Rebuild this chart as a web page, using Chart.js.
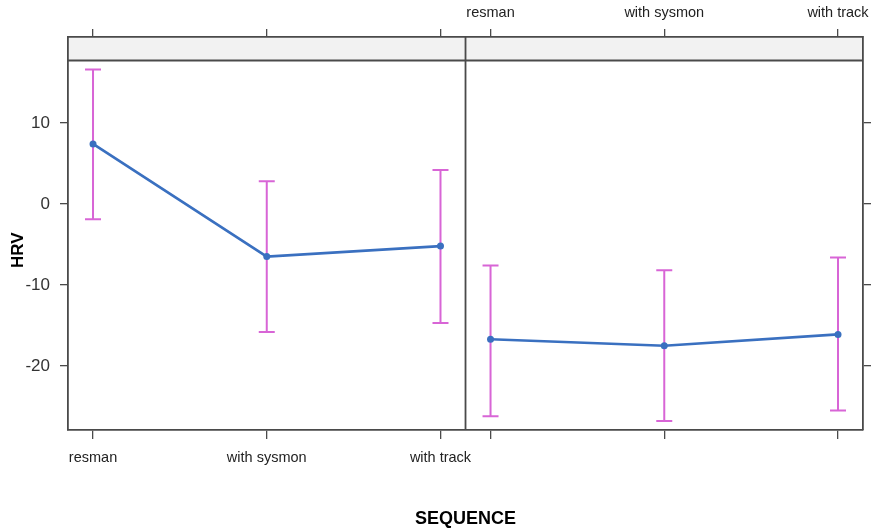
<!DOCTYPE html>
<html>
<head>
<meta charset="utf-8">
<script src="https://cdn.jsdelivr.net/npm/chart.js@4/dist/chart.umd.min.js"></script>
<style>
  html, body { margin: 0; padding: 0; background: #fff; }
  canvas { display: block; }
</style>
</head>
<body>
<canvas id="hrvChart" width="876" height="532"></canvas>
<script>
// values
const categories = ["resman", "with sysmon", "with track"];

const leftMean = [7.4, -6.5, -5.2];
const leftLower = [-1.9, -15.8, -14.7];
const leftUpper = [16.6, 2.8, 4.2];

const rightMean = [-16.7, -17.5, -16.1];
const rightLower = [-26.2, -26.8, -25.5];
const rightUpper = [-7.6, -8.2, -6.6];

const yTicks = [10, 0, -10, -20];

// panel layout on one continuous x scale
const pad = 0.144;
const span = 2 + 2 * pad;
const yMin = -27.9;
const yMax = 20.6;
const stripBottom = 17.7;

const frameColor = "#4a4a4a";
const lineColor = "#3a70c0";
const barColor = "#d865d6";
const fontFamily = "'Liberation Sans', Arial, sans-serif";

const toPoints = (panel, values) =>
  values.map((v, i) => ({ x: panel * span + i, y: v }));

const tickPositions = [0, 1].flatMap(p => categories.map((c, i) => p * span + i));

const errorBars = [
  { panel: 0, lower: leftLower, upper: leftUpper },
  { panel: 1, lower: rightLower, upper: rightUpper },
];

const panelDecor = {
  id: "panelDecor",
  beforeDraw(chart) {
    const { ctx, chartArea: a, scales } = chart;
    const sb = scales.y.getPixelForValue(stripBottom);
    ctx.save();
    ctx.fillStyle = "#f2f2f2";
    ctx.fillRect(a.left, a.top, a.right - a.left, sb - a.top);
    ctx.restore();
  },
  beforeDatasetsDraw(chart) {
    const { ctx, chartArea: a, scales } = chart;
    const x = scales.x, y = scales.y;
    ctx.save();
    // strip bottom line + panel divider
    ctx.strokeStyle = frameColor;
    ctx.lineWidth = 1.8;
    ctx.beginPath();
    const sb = y.getPixelForValue(stripBottom);
    ctx.moveTo(a.left, sb);
    ctx.lineTo(a.right, sb);
    const sx = x.getPixelForValue(span - pad);
    ctx.moveTo(sx, a.top);
    ctx.lineTo(sx, a.bottom);
    ctx.stroke();

    // error bars
    ctx.strokeStyle = barColor;
    ctx.lineWidth = 2;
    errorBars.forEach(eb => {
      eb.lower.forEach((lo, i) => {
        const px = x.getPixelForValue(eb.panel * span + i);
        const pLo = y.getPixelForValue(lo);
        const pHi = y.getPixelForValue(eb.upper[i]);
        ctx.beginPath();
        ctx.moveTo(px, pLo);
        ctx.lineTo(px, pHi);
        ctx.moveTo(px - 8, pLo);
        ctx.lineTo(px + 8, pLo);
        ctx.moveTo(px - 8, pHi);
        ctx.lineTo(px + 8, pHi);
        ctx.stroke();
      });
    });
    ctx.restore();
  },
  afterDraw(chart) {
    const { ctx, scales } = chart;
    const y = scales.y;
    const cy = (y.getPixelForValue(stripBottom) + y.bottom) / 2 + 5;
    ctx.save();
    ctx.translate(18, cy);
    ctx.rotate(-Math.PI / 2);
    ctx.font = "bold 17px " + fontFamily;
    ctx.fillStyle = "#000";
    ctx.textAlign = "center";
    ctx.textBaseline = "middle";
    ctx.fillText("HRV", 0, 0);
    ctx.restore();
  },
};

const grid = (len) => ({
  display: true,
  drawOnChartArea: false,
  drawTicks: true,
  tickLength: len,
  color: frameColor,
  lineWidth: 1.3,
});
const border = { display: true, color: frameColor, width: 1.8 };

const setXTicks = (scale) => {
  scale.ticks = tickPositions.map(v => ({ value: v }));
};

const hrvConfig = {
  type: "line",
  data: {
    datasets: [
      { data: toPoints(0, leftMean) },
      { data: toPoints(1, rightMean) },
    ].map(d => ({
      ...d,
      borderColor: lineColor,
      backgroundColor: lineColor,
      borderWidth: 2.7,
      pointRadius: 3.5,
      pointBorderWidth: 0,
      tension: 0,
      xAxisID: "x",
      yAxisID: "y",
    })),
  },
  options: {
    responsive: false,
    animation: false,
    layout: { padding: 0 },
    plugins: { legend: { display: false }, tooltip: { enabled: false } },
    scales: {
      x: {
        type: "linear",
        position: "bottom",
        min: -pad,
        max: 2 * span - pad,
        afterBuildTicks: setXTicks,
        afterFit: s => { s.height = 102; },
        grid: grid(9),
        border,
        ticks: {
          autoSkip: false,
          maxRotation: 0,
          padding: 10,
          color: "#222",
          font: { size: 14.5, family: fontFamily },
          callback: (v, i) => (i < 3 ? categories[i] : ""),
        },
        title: {
          display: true,
          text: "SEQUENCE",
          color: "#000",
          padding: { bottom: 2, top: 0 },
          font: { size: 18, weight: "bold", family: fontFamily },
        },
      },
      x2: {
        type: "linear",
        position: "top",
        min: -pad,
        max: 2 * span - pad,
        afterBuildTicks: setXTicks,
        afterFit: s => { s.height = 37; },
        grid: grid(8),
        border,
        ticks: {
          autoSkip: false,
          maxRotation: 0,
          padding: 7,
          color: "#222",
          font: { size: 14.5, family: fontFamily },
          callback: (v, i) => (i >= 3 ? categories[i - 3] : ""),
        },
      },
      y: {
        type: "linear",
        position: "left",
        min: yMin,
        max: yMax,
        afterBuildTicks: s => { s.ticks = yTicks.map(v => ({ value: v })); },
        afterFit: s => { s.width = 68; },
        grid: grid(8),
        border,
        ticks: {
          padding: 10,
          color: "#333",
          font: { size: 17, family: fontFamily },
        },
      },
      y2: {
        type: "linear",
        position: "right",
        min: yMin,
        max: yMax,
        afterBuildTicks: s => { s.ticks = yTicks.map(v => ({ value: v })); },
        afterFit: s => { s.width = 12; },
        grid: grid(8),
        border,
        ticks: { display: false },
      },
    },
  },
  plugins: [panelDecor],
};

const hrvChart = new Chart(document.getElementById("hrvChart"), hrvConfig);
</script>
</body>
</html>
